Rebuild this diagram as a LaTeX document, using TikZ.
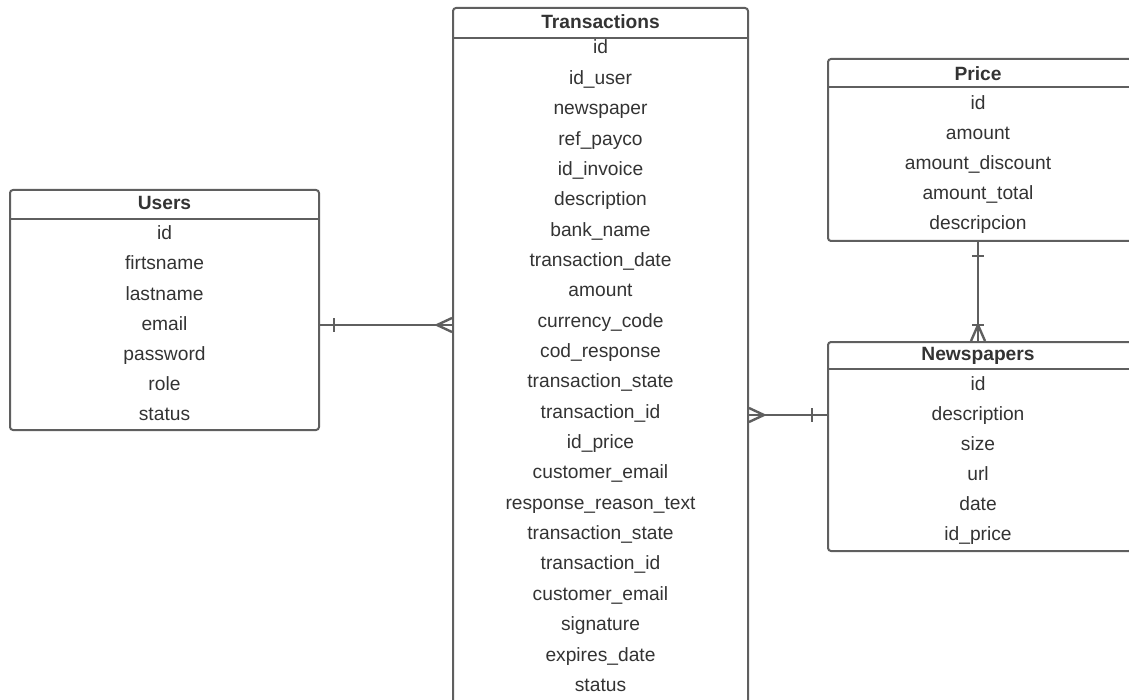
\documentclass[tikz,border=0pt]{standalone}
\usepackage{fontspec}
\setmainfont{Liberation Sans}
\usetikzlibrary{fit,calc}
\definecolor{linegray}{HTML}{5F5F5F}
\definecolor{textgray}{HTML}{333333}

\begin{document}
\begin{tikzpicture}[x=0.5pt, y=-0.5pt,
  tablebox/.style={draw=linegray, line width=1pt, rounded corners=1.5pt, inner sep=0pt},
  headnode/.style={anchor=base, inner sep=0pt, text=textgray, font=\fontsize{9.6}{11}\selectfont\bfseries},
  rownode/.style={anchor=base, inner sep=0pt, text height=7pt, text depth=2pt, text=textgray, font=\fontsize{9.6}{11}\selectfont},
  relline/.style={draw=linegray, line width=1.2pt}]
   	\useasboundingbox (0,0) rectangle (1129,700);
   	\clip (0,0) rectangle (1129,700);
   	% Users
   	\node[tablebox, fit={(10,190) (319,430)}] (users) {};
   	\draw[tablebox] ($(users.north west)+(0,30)$) -- ($(users.north east)+(0,30)$);
   	\node[headnode] (usershead) at (164.5,210) {Users};
   	\foreach \field [count=\i] in {id, firtsname, lastname, email, password, role, status}
       		\node[rownode] (u\i) at (164.5,210+30*\i) {\field};
   	% Transactions
   	\node[tablebox, fit={(453,8) (748,720)}] (trans) {};
   	\draw[tablebox] ($(trans.north west)+(0,31)$) -- ($(trans.north east)+(0,31)$);
   	\node[headnode] (transhead) at (600.5,29) {Transactions};
   	\foreach \field [count=\i] in {id, id\_user, newspaper, ref\_payco, id\_invoice, description, bank\_name, transaction\_date, amount, currency\_code, cod\_response, transaction\_state, transaction\_id, id\_price, customer\_email, response\_reason\_text, transaction\_state, transaction\_id, customer\_email, signature, expires\_date, status}
       		\node[rownode] (t\i) at (600.5,23.65+30.35*\i) {\field};
   	% Price
   	\node[tablebox, fit={(828,59) (1132,241)}] (price) {};
   	\draw[tablebox] ($(price.north west)+(0,29)$) -- ($(price.north east)+(0,29)$);
   	\node[headnode] (pricehead) at (978,81) {Price};
   	\foreach \field [count=\i] in {id, amount, amount\_discount, amount\_total, descripcion}
       		\node[rownode] (p\i) at (978,80.2+29.8*\i) {\field};
   	% Newspapers
   	\node[tablebox, fit={(828,342) (1132,551)}] (news) {};
   	\draw[tablebox] ($(news.north west)+(0,28)$) -- ($(news.north east)+(0,28)$);
   	\node[headnode] (newshead) at (978,360) {Newspapers};
   	\foreach \field [count=\i] in {id, description, size, url, date, id\_price}
       		\node[rownode] (n\i) at (978,360+30*\i) {\field};
   	% relations
   	\draw[relline] (users.east |- u4) -- (trans.west |- u4);
   	\draw[relline] ($(users.east |- u4)+(14,-7)$) -- ++(0,14);
   	\draw[relline] ($(trans.west |- u4)+(0,-7)$) -- ++(-15,7) -- ++(15,7);
   	\draw[relline] (trans.east |- n2) -- (news.west |- n2);
   	\draw[relline] ($(trans.east |- n2)+(0,-7)$) -- ++(15,7) -- ++(-15,7);
   	\draw[relline] ($(news.west |- n2)+(-15,-7)$) -- ++(0,14);
   	\draw[relline] (pricehead |- price.south) -- (pricehead |- news.north);
   	\draw[relline] ($(pricehead |- price.south)+(-6,14)$) -- ++(12,0);
   	\draw[relline] ($(pricehead |- news.north)+(-7,0)$) -- ++(7,-16) -- ++(7,16);
   	\draw[relline] ($(pricehead |- news.north)+(-6,-16)$) -- ++(12,0);
\end{tikzpicture}
\end{document}
